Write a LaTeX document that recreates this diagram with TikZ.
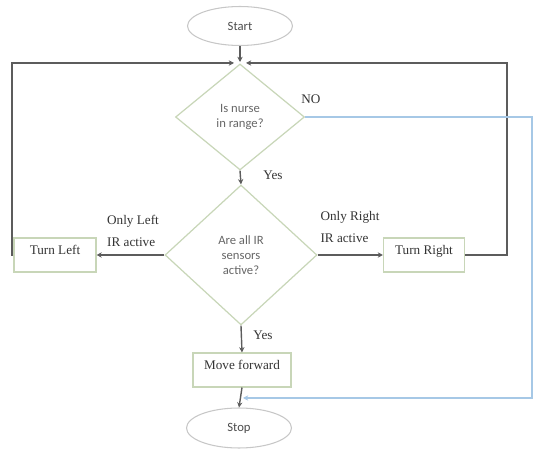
\documentclass[tikz,border=0pt]{standalone}
\usepackage{fontspec}
\setmainfont{Liberation Serif}
\newfontfamily\calfont{Carlito}
\usetikzlibrary{shapes.geometric,arrows.meta}
\definecolor{boxline}{HTML}{C8D6B8}
\definecolor{flowline}{HTML}{5C5C5C}
\definecolor{noline}{HTML}{A6C8E6}
\begin{document}
\begin{tikzpicture}[x=0.02cm, y=-0.02cm,
      every node/.style={font=\fontsize{7.5}{12.5}\selectfont, text=black!80},
      term/.style={ellipse, draw=black!22, line width=0.6pt, minimum width=2.1cm, minimum height=0.78cm, font=\calfont\fontsize{7.2}{9}\selectfont, text=black!70},
      proc/.style={rectangle, draw=boxline, line width=0.6pt, minimum height=0.68cm, text height=5pt, text depth=6pt},
      test/.style={diamond, draw=boxline, line width=0.7pt, inner sep=0pt, align=center, font=\calfont\fontsize{7.2}{8.7}\selectfont, text=black!60},
      link/.style={draw=flowline, line width=0.8pt, -{Stealth[length=3pt,width=3pt]}},
      nolink/.style={draw=noline, line width=0.7pt, -{Stealth[length=3pt,width=3pt]}}]
      \useasboundingbox (0,0) rectangle (538,449);
      % nodes
      \node[term] (start) at (240,26) {Start};
      \node[test, minimum width=2.58cm, minimum height=2.12cm] (range) at (240,117) {Is nurse\\in range?};
      \node[test, minimum width=3.04cm, minimum height=2.8cm] (sensors) at (241,255) {Are all IR\\sensors\\active?};
      \node[proc, minimum width=1.64cm] (turnl) at (55,255) {Turn Left};
      \node[proc, minimum width=1.62cm] (turnr) at (424,255) {Turn Right};
      \node[proc, minimum width=1.96cm] (fwd) at (242,370) {Move forward};
      \node[term, minimum height=0.8cm] (stop) at (239,428) {Stop};
      % labels
      \draw (311,99) node (no) {NO}
            (273,175) node (yes1) {Yes}
            (263,335) node (yes2) {Yes}
            (133,231) node[align=left] (onlyl) {Only Left\\IR active}
            (350,227) node[align=left] (onlyr) {Only Right\\IR active};
      % corners
      \coordinate (entry) at (240,62);
      \coordinate (lcorner) at (12,63);
      \coordinate (rcorner) at (507,63);
      \coordinate (lhit) at (234,63);
      \coordinate (rhit) at (246,63);
      \coordinate (ncorner1) at (532,117);
      \coordinate (ncorner2) at (532,398);
      \coordinate (njoin) at (243,398);
      % connectors
      \draw[link] (start) -- (entry);
      \draw[link] (turnl.west) -| (lcorner) -- (lhit);
      \draw[link] (turnr.east) -| (rcorner) -- (rhit);
      \draw[link] (range.south) -- (sensors.north);
      \draw[link] (sensors.west) -- (turnl.east);
      \draw[link] (sensors.east) -- (turnr.west);
      \draw[link] (sensors.south) -- (fwd.north);
      \draw[link] (fwd.south) -- (stop.north);
      \draw[nolink] (range.east) -- (ncorner1) -- (ncorner2) -- (njoin);
\end{tikzpicture}
\end{document}
